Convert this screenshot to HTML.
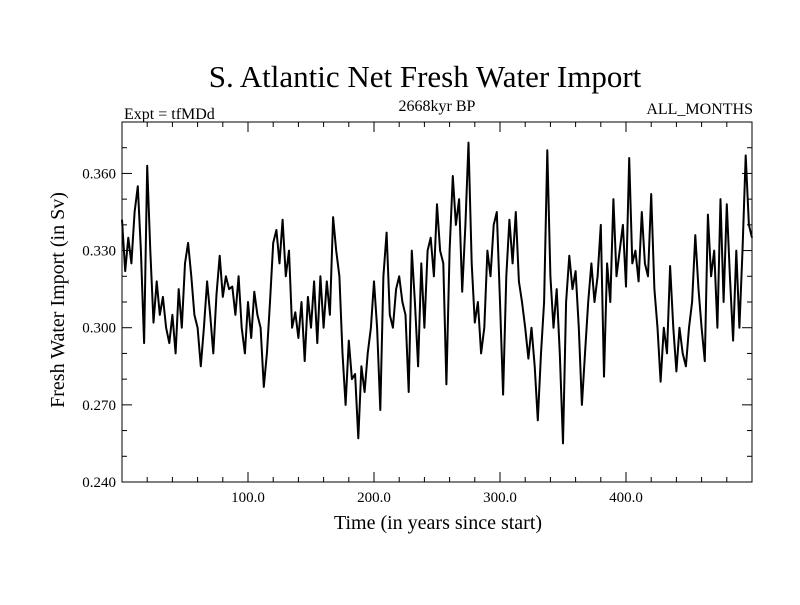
<!DOCTYPE html>
<html><head><meta charset="utf-8"><style>
body{margin:0;background:#fff;width:800px;height:600px;overflow:hidden}
svg text{font-family:"Liberation Serif",serif;fill:#000}
</style></head><body>
<svg id="chart" width="800" height="600">
<text x="425" y="87" font-size="31" text-anchor="middle">S. Atlantic Net Fresh Water Import</text>
<text x="124" y="119" font-size="16">Expt = tfMDd</text>
<text x="437" y="111" font-size="16" text-anchor="middle">2668kyr BP</text>
<text x="753" y="114" font-size="16" text-anchor="end">ALL_MONTHS</text>
<text x="438" y="529" font-size="20" text-anchor="middle">Time (in years since start)</text>
<text transform="translate(64,300) rotate(-90)" font-size="20" text-anchor="middle">Fresh Water Import (in Sv)</text>
<g id="axes"></g>
<path id="line" fill="none" stroke="#000" stroke-width="2" stroke-linejoin="round"/>
<rect x="122" y="122" width="630" height="360" fill="none" stroke="#000" stroke-width="1"/>
</svg>
<script>
const yearStep=2.5;
const values=[
0.342,0.322,0.335,0.325,0.345,0.355,0.330,0.294,0.363,0.330,
0.302,0.318,0.305,0.312,0.300,0.294,0.305,0.290,0.315,0.300,
0.325,0.333,0.320,0.305,0.300,0.285,0.300,0.318,0.305,0.290,
0.313,0.328,0.312,0.320,0.315,0.316,0.305,0.320,0.300,0.290,
0.310,0.296,0.314,0.305,0.300,0.277,0.290,0.310,0.333,0.338,
0.325,0.342,0.320,0.330,0.300,0.306,0.296,0.310,0.287,0.312,
0.300,0.318,0.294,0.320,0.300,0.318,0.305,0.343,0.330,0.320,
0.290,0.270,0.295,0.280,0.282,0.257,0.285,0.275,0.290,0.300,
0.318,0.300,0.268,0.320,0.337,0.305,0.300,0.315,0.320,0.310,
0.305,0.275,0.330,0.310,0.285,0.325,0.300,0.330,0.335,0.320,
0.348,0.330,0.325,0.278,0.330,0.359,0.340,0.350,0.314,0.340,
0.372,0.325,0.302,0.310,0.290,0.300,0.330,0.320,0.340,0.345,
0.310,0.274,0.320,0.342,0.325,0.345,0.318,0.310,0.300,0.288,
0.300,0.285,0.264,0.290,0.310,0.369,0.320,0.300,0.315,0.290,
0.255,0.310,0.328,0.315,0.322,0.300,0.270,0.290,0.310,0.325,
0.310,0.320,0.340,0.281,0.325,0.310,0.350,0.320,0.330,0.340,
0.316,0.366,0.325,0.330,0.318,0.345,0.325,0.320,0.352,0.315,
0.300,0.279,0.300,0.290,0.324,0.300,0.283,0.300,0.290,0.285,
0.300,0.310,0.336,0.315,0.300,0.287,0.344,0.320,0.330,0.300,
0.350,0.310,0.348,0.320,0.295,0.330,0.300,0.330,0.367,0.340,
0.335];
const xTicks=[100,200,300,400];
const xTickLabels=["100.0","200.0","300.0","400.0"];
const yTicks=[0.24,0.27,0.30,0.33,0.36];
const yTickLabels=["0.240","0.270","0.300","0.330","0.360"];
const X0=122,X1=752,Y0=482,Y1=122,XMIN=0,XMAX=500,YMIN=0.24,YMAX=0.38;
function sx(v){return X0+(v-XMIN)/(XMAX-XMIN)*(X1-X0);}
function sy(v){return Y0-(v-YMIN)/(YMAX-YMIN)*(Y0-Y1);}
const ns="http://www.w3.org/2000/svg";
const axes=document.getElementById('axes');
function ln(x1,y1,x2,y2,name){const l=document.createElementNS(ns,'line');l.setAttribute('x1',x1);l.setAttribute('y1',y1);l.setAttribute('x2',x2);l.setAttribute('y2',y2);l.setAttribute('stroke','#000');l.setAttribute('stroke-width','1');


axes.appendChild(l);}
for(let v=20;v<500;v+=20){const x=sx(v);const major=v%100===0;const L=major?10:5;ln(x,Y0,x,Y0-L,'x-tick');ln(x,Y1,x,Y1+L,'x-tick-top');}
for(let i=0;i<=14;i++){const v=0.24+i*0.01;const y=sy(v);const major=i%3===0;const L=major?10:5;ln(X0,y,X0+L,y,'y-tick');ln(X1,y,X1-L,y,'y-tick-right');}
xTicks.forEach((v,i)=>{const t=document.createElementNS(ns,'text');t.setAttribute('x',sx(v));t.setAttribute('y',Y0+20);t.setAttribute('font-size','15');t.setAttribute('text-anchor','middle');t.textContent=xTickLabels[i];


axes.appendChild(t);});
yTicks.forEach((v,i)=>{const t=document.createElementNS(ns,'text');t.setAttribute('x',X0-6);t.setAttribute('y',sy(v)+5);t.setAttribute('font-size','15');t.setAttribute('text-anchor','end');t.textContent=yTickLabels[i];


axes.appendChild(t);});
let d='';values.forEach((v,i)=>{d+=(i?'L':'M')+sx(i*yearStep).toFixed(1)+','+sy(v).toFixed(1);});
document.getElementById('line').setAttribute('d',d);
</script>
</body></html>
